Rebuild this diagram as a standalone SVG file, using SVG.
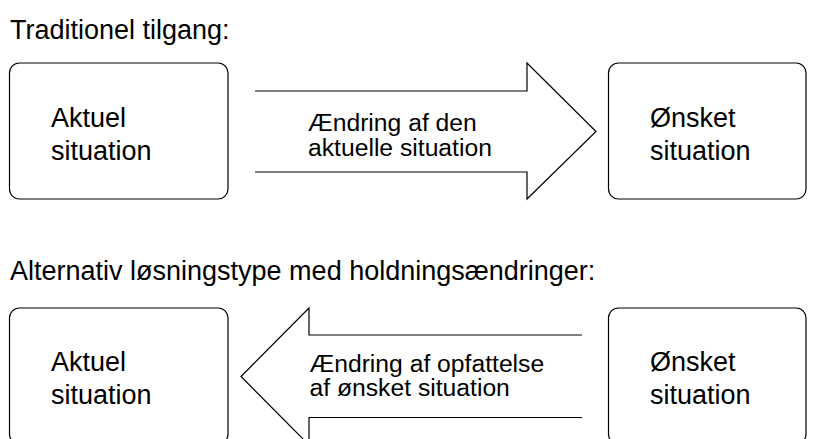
<svg xmlns="http://www.w3.org/2000/svg" width="816" height="439" viewBox="0 0 816 439">
  <style>
    .box { fill: #ffffff; stroke: #000000; stroke-width: 1.2; }
    .arrow { fill: #ffffff; stroke: #000000; stroke-width: 1.2; stroke-linejoin: miter; }
    .title { font-family: "Liberation Sans", Arial, sans-serif; font-size: 27px; fill: #000000; }
    .label { font-family: "Liberation Sans", Arial, sans-serif; font-size: 27px; fill: #000000; }
    .alabel { font-family: "Liberation Sans", Arial, sans-serif; font-size: 24.7px; fill: #000000; }
  </style>
  <rect width="816" height="439" fill="#ffffff"/>

  <!-- Section headings -->
  <text class="title" x="10" y="39">Traditionel tilgang:</text>
  <text class="title" x="10" y="280">Alternativ løsningstype med holdningsændringer:</text>

  <!-- Top row -->
  <g id="aktuel-top">
    <rect class="box" x="9.5" y="63" width="218.5" height="136" rx="10"/>
    <text class="label" x="51" y="127">Aktuel</text>
    <text class="label" x="51" y="160">situation</text>
  </g>
  <g id="oensket-top">
    <rect class="box" x="608.5" y="63" width="197.5" height="136" rx="10"/>
    <text class="label" x="650" y="127">Ønsket</text>
    <text class="label" x="650" y="160">situation</text>
  </g>

  <!-- Bottom row -->
  <g id="aktuel-bottom">
    <rect class="box" x="9.5" y="308" width="218.5" height="136" rx="10"/>
    <text class="label" x="51" y="371">Aktuel</text>
    <text class="label" x="51" y="404">situation</text>
  </g>
  <g id="oensket-bottom">
    <rect class="box" x="608.5" y="308" width="197.5" height="136" rx="10"/>
    <text class="label" x="650" y="371">Ønsket</text>
    <text class="label" x="650" y="404">situation</text>
  </g>

  <!-- Block arrows between the situations (tail end left open) -->
  <g id="connectors">
    <g id="arrow-forward">
      <path class="arrow" d="M255,91 H527 V63 L596,131.5 L527,199 V172 H255"/>
      <text class="alabel" x="308" y="131">Ændring af den</text>
      <text class="alabel" x="308" y="156">aktuelle situation</text>
    </g>
    <g id="arrow-back">
      <path class="arrow" d="M582,335 H309 V308 L241,376.5 L309,445 V417.5 H582"/>
      <text class="alabel" x="309.5" y="371.5">Ændring af opfattelse</text>
      <text class="alabel" x="309.5" y="396">af ønsket situation</text>
    </g>
  </g>
</svg>
